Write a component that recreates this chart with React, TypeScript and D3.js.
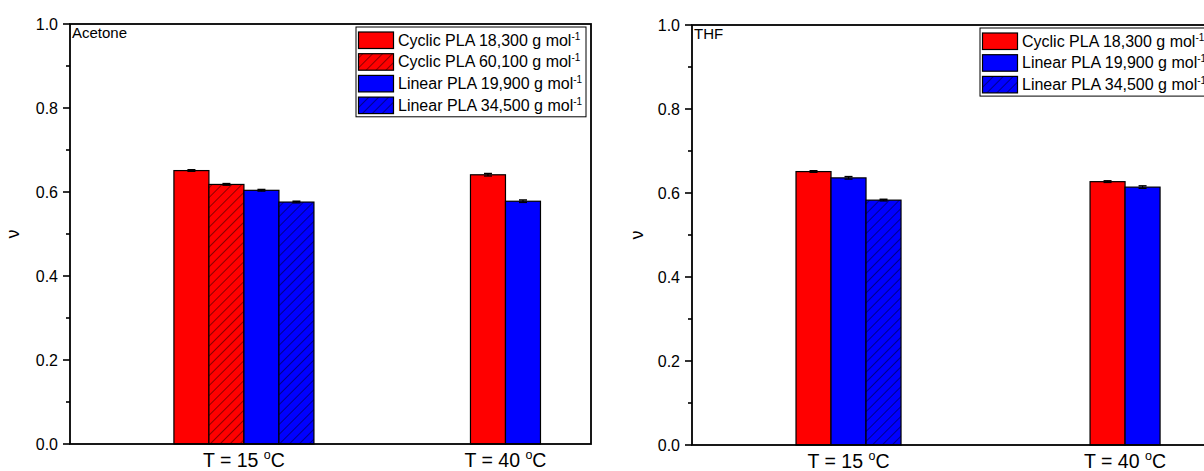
import React from "react";
import * as d3 from "d3";

// ---------- data ----------
const temperatures = ["15", "40"];
const yTicks = [0, 0.2, 0.4, 0.6, 0.8, 1.0];
const yMinorTicks = [0.1, 0.3, 0.5, 0.7, 0.9];

// Acetone panel (null = not measured)
const acetoneSeriesNames = ["Cyclic PLA 18,300", "Cyclic PLA 60,100", "Linear PLA 19,900", "Linear PLA 34,500"];
const acetoneSeriesColors = ["#ff0000", "#ff0000", "#0000ff", "#0000ff"];
const acetoneSeriesHatched = [false, true, false, true];
const acetoneCyclic18300 = [0.651, 0.641];
const acetoneCyclic60100 = [0.618, null];
const acetoneLinear19900 = [0.604, 0.578];
const acetoneLinear34500 = [0.576, null];
const acetoneErrors = [[0.002, 0.003], [0.002, null], [0.002, 0.003], [0.002, null]];

// THF panel
const thfSeriesNames = ["Cyclic PLA 18,300", "Linear PLA 19,900", "Linear PLA 34,500"];
const thfSeriesColors = ["#ff0000", "#0000ff", "#0000ff"];
const thfSeriesHatched = [false, false, true];
const thfCyclic18300 = [0.651, 0.627];
const thfLinear19900 = [0.636, 0.614];
const thfLinear34500 = [0.583, null];
const thfErrors = [[0.002, 0.002], [0.003, 0.003], [0.002, null]];

const FONT = "'Liberation Sans', Arial, sans-serif";

type PanelProps = {
  id: string;
  title: string;
  left: number;
  right: number;
  top: number;
  bottom: number;
  xDomain: [number, number];
  barWidthUnits: number;
  names: string[];
  colors: string[];
  hatched: boolean[];
  values: (number | null)[][];
  errors: (number | null)[][];
  legendX: number;
  legendY: number;
  legendW: number;
  yLabelX: number;
};

function Panel(p: PanelProps) {
  const x = d3.scaleLinear().domain(p.xDomain).range([p.left, p.right]);
  const y = d3.scaleLinear().domain([0, 1]).range([p.bottom, p.top]);
  const bw = x(1 + p.barWidthUnits) - x(1);
  const fmt = d3.format(".1f");

  const bars: React.ReactNode[] = [];
  temperatures.forEach((_, ci) => {
    const present = p.values.map((v, si) => (v[ci] == null ? -1 : si)).filter((s) => s >= 0);
    const cx = x(ci + 1);
    const start = cx - (present.length * bw) / 2;
    present.forEach((si, k) => {
      const v = p.values[si][ci] as number;
      const e = (p.errors[si][ci] as number) || 0;
      const bx = start + k * bw;
      bars.push(
        <g key={`b${ci}-${si}`}>
          <rect x={bx} y={y(v)} width={bw} height={y(0) - y(v)} fill={p.colors[si]} stroke="none" />
          {p.hatched[si] && (
            <rect x={bx} y={y(v)} width={bw} height={y(0) - y(v)} fill={`url(#hatch-${p.id})`} />
          )}
          <rect x={bx} y={y(v)} width={bw} height={y(0) - y(v)} fill="none" stroke="#000" strokeWidth={1.2} />
          <line x1={bx + bw / 2} x2={bx + bw / 2} y1={y(v + e)} y2={y(v - e)} stroke="#000" strokeWidth={1.2} />
          <line x1={bx + bw / 2 - 4} x2={bx + bw / 2 + 4} y1={y(v + e)} y2={y(v + e)} stroke="#000" strokeWidth={1.5} />
          <line x1={bx + bw / 2 - 4} x2={bx + bw / 2 + 4} y1={y(v - e)} y2={y(v - e)} stroke="#000" strokeWidth={1.2} />
        </g>
      );
    });
  });

  const rowH = 21.7;
  const legendH = p.names.length * rowH + 3;

  return (
    <g>
      <defs>
        <pattern id={`hatch-${p.id}`} patternUnits="userSpaceOnUse" width={7} height={7} patternTransform="rotate(45)">
          <line x1={0} y1={0} x2={0} y2={7} stroke="#000" strokeWidth={0.9} />
        </pattern>
      </defs>
      {bars}
      {/* frame */}
      <rect x={p.left} y={p.top} width={p.right - p.left} height={p.bottom - p.top} fill="none" stroke="#000" strokeWidth={1.8} />
      {/* y ticks */}
      {yTicks.map((t) => (
        <g key={`t${t}`}>
          <line x1={p.left - 7} x2={p.left} y1={y(t)} y2={y(t)} stroke="#000" strokeWidth={1.6} />
          <text x={p.left - 12} y={y(t)} dy="0.35em" textAnchor="end" fontFamily={FONT} fontSize={16}>
            {fmt(t)}
          </text>
        </g>
      ))}
      {yMinorTicks.map((t) => (
        <line key={`m${t}`} x1={p.left - 4} x2={p.left} y1={y(t)} y2={y(t)} stroke="#000" strokeWidth={1.6} />
      ))}
      {/* x labels */}
      {temperatures.map((t, ci) => (
        <text key={`x${t}`} x={x(ci + 1)} y={p.bottom + 23} textAnchor="middle" fontFamily={FONT} fontSize={19.5}>
          {`T = ${t} `}
          <tspan fontSize={12.5} dy={-8}>o</tspan>
          <tspan dy={8}>C</tspan>
        </text>
      ))}
      {/* y label */}
      <text
        transform={`translate(${p.yLabelX},${(p.top + p.bottom) / 2}) rotate(-90)`}
        textAnchor="middle"
        fontFamily={FONT}
        fontSize={18}
      >
        ν
      </text>
      {/* title */}
      <text x={p.left + 2} y={p.top + 13.5} fontFamily={FONT} fontSize={15}>
        {p.title}
      </text>
      {/* legend */}
      <rect x={p.legendX} y={p.legendY} width={p.legendW} height={legendH} fill="#fff" stroke="#000" strokeWidth={1} />
      {p.names.map((n, si) => {
        const ry = p.legendY + 5 + si * rowH;
        return (
          <g key={`l${si}`}>
            <rect x={p.legendX + 2.5} y={ry} width={35} height={16.5} fill={p.colors[si]} />
            {p.hatched[si] && (
              <rect x={p.legendX + 2.5} y={ry} width={35} height={16.5} fill={`url(#hatch-${p.id})`} />
            )}
            <rect x={p.legendX + 2.5} y={ry} width={35} height={16.5} fill="none" stroke="#000" strokeWidth={1.2} />
            <text x={p.legendX + 42} y={ry + 13.5} fontFamily={FONT} fontSize={16}>
              {`${n} g mol`}
              <tspan fontSize={10} dy={-6}>-1</tspan>
            </text>
          </g>
        );
      })}
    </g>
  );
}

export default function App() {
  return (
    <svg width={1204} height={471} style={{ position: "absolute", left: 0, top: 0, background: "#fff" }}>
      <rect x={0} y={0} width={1204} height={471} fill="#fff" />
      <Panel
        id="acetone"
        title="Acetone"
        left={70}
        right={591}
        top={24}
        bottom={444}
        xDomain={[0.335, 2.327]}
        barWidthUnits={35 / 261.5}
        names={acetoneSeriesNames}
        colors={acetoneSeriesColors}
        hatched={acetoneSeriesHatched}
        values={[acetoneCyclic18300, acetoneCyclic60100, acetoneLinear19900, acetoneLinear34500]}
        errors={acetoneErrors}
        legendX={356}
        legendY={27}
        legendW={230}
        yLabelX={19}
      />
      <Panel
        id="thf"
        title="THF"
        left={692}
        right={1213}
        top={25}
        bottom={445}
        xDomain={[0.434, 2.318]}
        barWidthUnits={35 / 276.5}
        names={thfSeriesNames}
        colors={thfSeriesColors}
        hatched={thfSeriesHatched}
        values={[thfCyclic18300, thfLinear19900, thfLinear34500]}
        errors={thfErrors}
        legendX={980}
        legendY={28}
        legendW={230}
        yLabelX={643}
      />
    </svg>
  );
}
